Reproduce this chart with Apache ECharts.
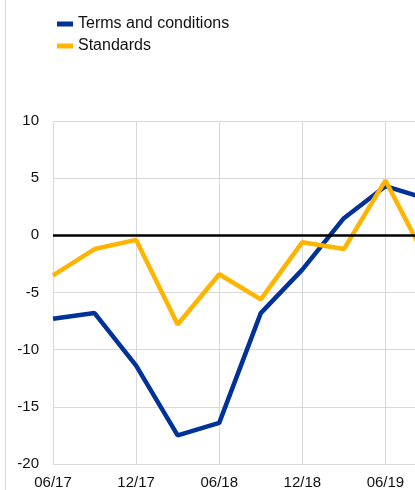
<!DOCTYPE html>
<html>
<head>
<meta charset="utf-8">
<script src="https://cdn.jsdelivr.net/npm/echarts@6/dist/echarts.min.js"></script>
<style>
  html, body { margin: 0; padding: 0; background: #fff; overflow: hidden; }
  /* chart is a bit wider than the window: last quarter is cut off at the right edge */
  #chart { width: 427px; height: 490px; }
</style>
</head>
<body>
<div id="chart"></div>
<script>
// quarterly dates, only every second one is labelled
var categories = ['06/17', '09/17', '12/17', '03/18', '06/18', '09/18', '12/18', '03/19', '06/19', '09/19'];
var termsConditions = [-7.3, -6.8, -11.4, -17.5, -16.4, -6.8, -3.0, 1.5, 4.3, 3.2];
var standards = [-3.5, -1.2, -0.4, -7.8, -3.4, -5.6, -0.6, -1.2, 4.8, -2.2];
var yTicks = [10, 5, 0, -5, -10, -15, -20];

var chart = echarts.init(document.getElementById('chart'));
chart.setOption({
  animation: false,
  textStyle: { fontFamily: 'Liberation Sans, Arial, sans-serif' },
  graphic: [{
    type: 'line',
    shape: { x1: 5.5, y1: 0, x2: 5.5, y2: 490 },
    style: { stroke: '#d9d9d9', lineWidth: 1 }
  }],
  legend: {
    orient: 'vertical',
    left: 52,
    top: 11,
    itemWidth: 16,
    itemHeight: 5,
    itemGap: 6,
    icon: 'rect',
    textStyle: { fontSize: 16, color: '#111' },
    data: ['Terms and conditions', 'Standards']
  },
  grid: { left: 53, right: 0, top: 121, bottom: 24 },
  xAxis: {
    type: 'category',
    boundaryGap: false,
    data: categories,
    axisLine: { show: false },
    axisTick: { show: false },
    axisLabel: { interval: 1, fontSize: 15, color: '#111', margin: 11 },
    splitLine: { show: true, interval: 1, lineStyle: { color: '#d9d9d9', width: 1 } }
  },
  yAxis: {
    type: 'value',
    min: yTicks[yTicks.length - 1],
    max: yTicks[0],
    interval: 5,
    axisLine: { show: false },
    axisTick: { show: false },
    axisLabel: { fontSize: 15, color: '#111', margin: 14 },
    splitLine: { lineStyle: { color: '#d9d9d9', width: 1 } }
  },
  series: [
    {
      name: 'Terms and conditions',
      type: 'line',
      data: termsConditions,
      symbol: 'none',
      z: 3,
      lineStyle: { color: '#003299', width: 4.5 },
      itemStyle: { color: '#003299' },
      markLine: {
        silent: true,
        symbol: 'none',
        label: { show: false },
        lineStyle: { color: '#000', width: 2.5, type: 'solid' },
        data: [{ yAxis: 0 }]
      }
    },
    {
      name: 'Standards',
      type: 'line',
      data: standards,
      symbol: 'none',
      z: 4,
      lineStyle: { color: '#ffb400', width: 4.5 },
      itemStyle: { color: '#ffb400' }
    }
  ]
});
</script>
</body>
</html>
